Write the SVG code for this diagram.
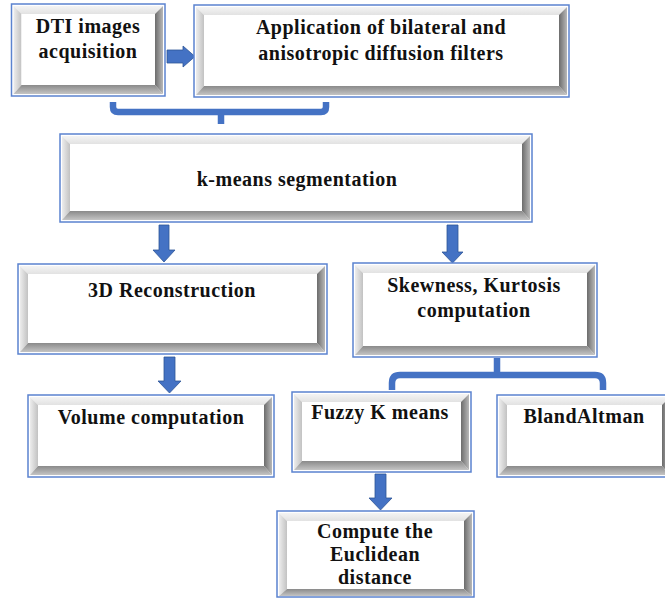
<svg xmlns="http://www.w3.org/2000/svg" width="665" height="598" viewBox="0 0 665 598">
<defs>
<linearGradient id="gT" x1="0" y1="0" x2="0" y2="1"><stop offset="0" stop-color="#f4f4f4"/><stop offset="1" stop-color="#e2e2e2"/></linearGradient>
<linearGradient id="gL" x1="0" y1="0" x2="1" y2="0"><stop offset="0" stop-color="#ededed"/><stop offset="1" stop-color="#c2c2c2"/></linearGradient>
<linearGradient id="gR" x1="0" y1="0" x2="1" y2="0"><stop offset="0" stop-color="#6c6c6c"/><stop offset="1" stop-color="#b8b8b8"/></linearGradient>
<linearGradient id="gB" x1="0" y1="0" x2="0" y2="1"><stop offset="0" stop-color="#8a8a8a"/><stop offset="1" stop-color="#c4c4c4"/></linearGradient>
</defs>
<style>
.frame{fill:#ffffff;stroke:#5b83cf;stroke-width:1.5}
.bt{fill:url(#gT)}
.bl{fill:url(#gL)}
.br{fill:url(#gR)}
.bb{fill:url(#gB)}
.face{fill:#ffffff}
text{font-family:"Liberation Serif","Times New Roman",serif;font-weight:bold;font-size:20px;letter-spacing:0.5px;fill:#111111;text-anchor:middle}
.arrow{fill:#4472c4;stroke:#2f5597;stroke-width:0.8}
.bracket{fill:none;stroke:#4472c4;stroke-width:6.5;stroke-linejoin:round}
</style>
<g id="connectors">
<polygon class="arrow" points="167,50 183,50 183,46 195,56.5 183,67 183,63 167,63"/>
<path class="bracket" d="M113,102 V107 Q113,112 118,112 H321 Q326,112 326,107 V102 M221,112 V124"/>
<polygon class="arrow" points="159,225 169,225 169,250 175,250 164,262 153,250 159,250"/>
<polygon class="arrow" points="447,225 458,225 458,252 463,252 452.5,263 442,252 447,252"/>
<polygon class="arrow" points="164,357 175,357 175,381 181,381 169.5,393 158,381 164,381"/>
<path class="bracket" d="M497,358 V375 M392,390 V383 Q392,375 400,375 H595 Q603,375 603,383 V390"/>
<polygon class="arrow" points="375,474 386,474 386,498 392,498 380.5,510 369,498 375,498"/>
</g>
<g id="n1">
<rect class="frame" x="11.5" y="4" width="153.5" height="92"/>
<polygon class="bt" points="13.5,6 163,6 155,14 21.5,14"/>
<polygon class="bl" points="13.5,6 21.5,14 21.5,85 13.5,94"/>
<polygon class="br" points="155,14 155,85 163,94 163,6"/>
<polygon class="bb" points="21.5,85 155,85 163,94 13.5,94"/>
<rect class="face" x="21.5" y="14" width="133.5" height="71"/>
<text x="88" y="33">DTI images</text>
<text x="88" y="58">acquisition</text>
</g>
<g id="n2">
<rect class="frame" x="194" y="5" width="375" height="92"/>
<polygon class="bt" points="196,7 567,7 559,15 204,15"/>
<polygon class="bl" points="196,7 204,15 204,86 196,95"/>
<polygon class="br" points="559,15 559,86 567,95 567,7"/>
<polygon class="bb" points="204,86 559,86 567,95 196,95"/>
<rect class="face" x="204" y="15" width="355" height="71"/>
<text x="381" y="34">Application of bilateral and</text>
<text x="381" y="60">anisotropic diffusion filters</text>
</g>
<g id="n3">
<rect class="frame" x="60" y="134" width="472" height="88"/>
<polygon class="bt" points="62,136 530,136 522,144 70,144"/>
<polygon class="bl" points="62,136 70,144 70,211 62,220"/>
<polygon class="br" points="522,144 522,211 530,220 530,136"/>
<polygon class="bb" points="70,211 522,211 530,220 62,220"/>
<rect class="face" x="70" y="144" width="452" height="67"/>
<text x="297" y="186">k-means segmentation</text>
</g>
<g id="n4">
<rect class="frame" x="18" y="264" width="309" height="90"/>
<polygon class="bt" points="20,266 325,266 317,274 28,274"/>
<polygon class="bl" points="20,266 28,274 28,343 20,352"/>
<polygon class="br" points="317,274 317,343 325,352 325,266"/>
<polygon class="bb" points="28,343 317,343 325,352 20,352"/>
<rect class="face" x="28" y="274" width="289" height="69"/>
<text x="172" y="297">3D Reconstruction</text>
</g>
<g id="n5">
<rect class="frame" x="353" y="263" width="244" height="94"/>
<polygon class="bt" points="355,265 595,265 587,273 363,273"/>
<polygon class="bl" points="355,265 363,273 363,346 355,355"/>
<polygon class="br" points="587,273 587,346 595,355 595,265"/>
<polygon class="bb" points="363,346 587,346 595,355 355,355"/>
<rect class="face" x="363" y="273" width="224" height="73"/>
<text x="474" y="292">Skewness, Kurtosis</text>
<text x="474" y="317">computation</text>
</g>
<g id="n6">
<rect class="frame" x="28" y="395" width="246" height="82"/>
<polygon class="bt" points="30,397 272,397 264,405 38,405"/>
<polygon class="bl" points="30,397 38,405 38,466 30,475"/>
<polygon class="br" points="264,405 264,466 272,475 272,397"/>
<polygon class="bb" points="38,466 264,466 272,475 30,475"/>
<rect class="face" x="38" y="405" width="226" height="61"/>
<text x="151" y="424">Volume computation</text>
</g>
<g id="n7">
<rect class="frame" x="292" y="392" width="179" height="80"/>
<polygon class="bt" points="294,394 469,394 461,402 302,402"/>
<polygon class="bl" points="294,394 302,402 302,461 294,470"/>
<polygon class="br" points="461,402 461,461 469,470 469,394"/>
<polygon class="bb" points="302,461 461,461 469,470 294,470"/>
<rect class="face" x="302" y="402" width="159" height="59"/>
<text x="380" y="419">Fuzzy K means</text>
</g>
<g id="n8">
<rect class="frame" x="497" y="395" width="175" height="82"/>
<polygon class="bt" points="499,397 670,397 662,405 507,405"/>
<polygon class="bl" points="499,397 507,405 507,466 499,475"/>
<polygon class="br" points="662,405 662,466 670,475 670,397"/>
<polygon class="bb" points="507,466 662,466 670,475 499,475"/>
<rect class="face" x="507" y="405" width="155" height="61"/>
<text x="584" y="423">BlandAltman</text>
</g>
<g id="n9">
<rect class="frame" x="277" y="511" width="197" height="86"/>
<polygon class="bt" points="279,513 472,513 464,521 287,521"/>
<polygon class="bl" points="279,513 287,521 287,589 279,596"/>
<polygon class="br" points="464,521 464,589 472,596 472,513"/>
<polygon class="bb" points="287,589 464,589 472,596 279,596"/>
<rect class="face" x="287" y="521" width="177" height="68"/>
<text x="375" y="538">Compute the</text>
<text x="375" y="561">Euclidean</text>
<text x="375" y="584">distance</text>
</g>
</svg>
